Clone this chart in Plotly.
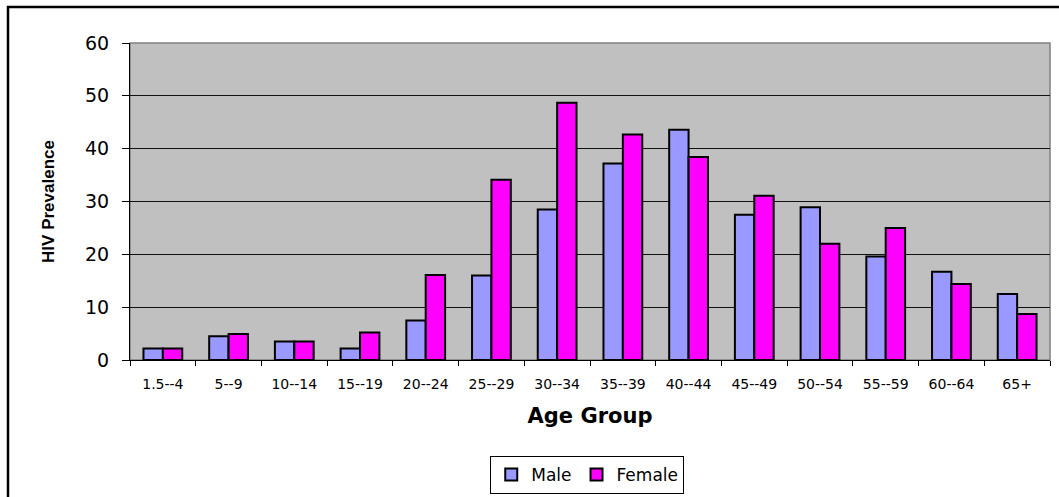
import plotly.graph_objects as go

age_groups = ["1.5--4", "5--9", "10--14", "15--19", "20--24", "25--29", "30--34",
              "35--39", "40--44", "45--49", "50--54", "55--59", "60--64", "65+"]
male = [2.2, 4.5, 3.5, 2.2, 7.5, 16.0, 28.5, 37.2, 43.6, 27.5, 28.9, 19.6, 16.7, 12.5]
female = [2.2, 4.9, 3.5, 5.2, 16.1, 34.1, 48.7, 42.7, 38.4, 31.1, 22.0, 25.0, 14.4, 8.7]

WIDE = "DejaVu Sans, Verdana, sans-serif"
ARIAL = "Liberation Sans, Arial, sans-serif"

fig = go.Figure()
fig.add_trace(go.Bar(name="Male", x=age_groups, y=male,
                     marker=dict(color="#9999FF", line=dict(color="black", width=2))))
fig.add_trace(go.Bar(name="Female", x=age_groups, y=female,
                     marker=dict(color="#FF00FF", line=dict(color="black", width=2))))

W, H = 1059, 497
L, R, T, B = 130, 9, 43, 137
pw, ph = W - L - R, H - T - B

fig.update_layout(
    width=W, height=H,
    margin=dict(l=L, r=R, t=T, b=B, pad=0, autoexpand=False),
    paper_bgcolor="white",
    plot_bgcolor="#C0C0C0",
    barmode="group",
    bargap=0.41,
    bargroupgap=0,
    font=dict(family=WIDE, color="black"),
    showlegend=True,
    legend=dict(
        orientation="h",
        x=0.497, xanchor="center",
        y=-(456 - (T + ph)) / ph, yanchor="top",
        bordercolor="black", borderwidth=1,
        bgcolor="white",
        font=dict(size=17, family=WIDE),
        traceorder="normal",
    ),
    xaxis=dict(
        type="category",
        automargin=False,
        showline=True, linecolor="black", linewidth=1,
        ticks="outside", tickson="boundaries", ticklen=5, tickcolor="black",
        tickfont=dict(size=14, family=WIDE),
        ticklabelstandoff=11,
        showgrid=False,
        title=dict(text="<b>Age Group</b>", font=dict(size=21, family=WIDE), standoff=17),
    ),
    yaxis=dict(
        range=[0, 60], dtick=10,
        automargin=False,
        showline=True, linecolor="black", linewidth=1,
        ticks="outside", ticklen=7, tickcolor="black",
        tickfont=dict(size=19, family=WIDE),
        ticklabelstandoff=9,
        showgrid=True, gridcolor="#111111", gridwidth=1,
        zeroline=False,
        title=dict(text="<b>HIV Prevalence</b>", font=dict(size=17, family=ARIAL), standoff=26),
    ),
    shapes=[
        # grey frame round the plot area
        dict(type="rect", xref="paper", yref="paper", x0=0, x1=1, y0=0, y1=1,
             line=dict(color="#808080", width=1.5), fillcolor="rgba(0,0,0,0)", layer="below"),
        # outer chart border
        dict(type="rect", xref="paper", yref="paper",
             x0=(8 - L) / pw, x1=2.0, y0=-2.0, y1=(T + ph - 7) / ph,
             line=dict(color="black", width=2.5), fillcolor="rgba(0,0,0,0)"),
    ],
)

fig.write_html("out.html")
